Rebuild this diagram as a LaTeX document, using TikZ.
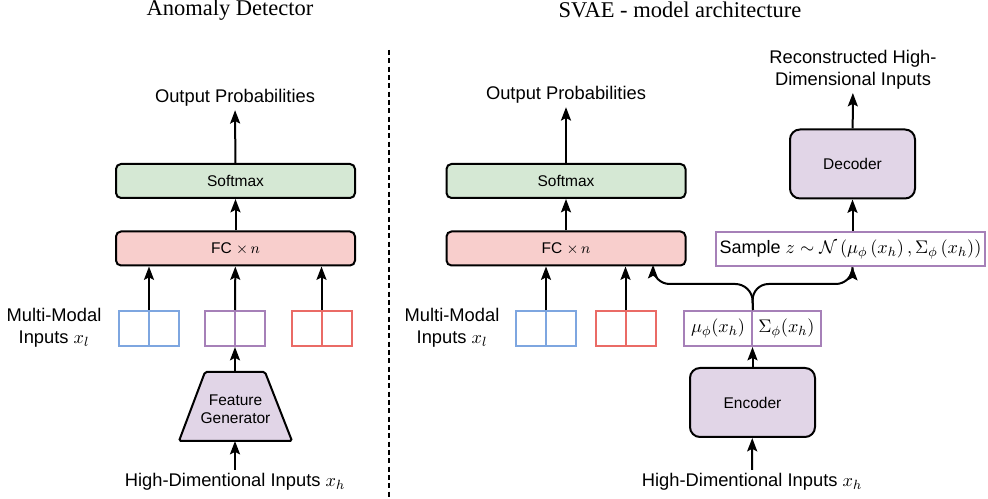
\documentclass[tikz,border=0pt]{standalone}
\usepackage{amsmath,amssymb}
\usepackage{fontspec}
\setsansfont{Liberation Sans}
\newfontfamily\titlefont{Liberation Serif}
\usetikzlibrary{arrows.meta,positioning}
\definecolor{softgreen}{HTML}{D5E8D4}
\definecolor{fcred}{HTML}{F8CECC}
\definecolor{vaepurple}{HTML}{E1D5E7}
\definecolor{inblue}{HTML}{7EA6E0}
\definecolor{inpurple}{HTML}{A680B8}
\definecolor{inred}{HTML}{EA6B66}

\begin{document}
\begin{tikzpicture}[x=0.6pt,y=-0.6pt]
\useasboundingbox (0,0) rectangle (988,499);
\tikzstyle{every node}=[inner sep=2pt, font=\sffamily];
\tikzstyle{layer}=[draw, line width=1.2pt, rounded corners=3pt, minimum width=143.4pt, minimum height=20.4pt, font=\sffamily\fontsize{9.3}{11}\selectfont]
\tikzstyle{coder}=[draw, fill=vaepurple, line width=1.2pt, rounded corners=6pt, minimum width=75pt, minimum height=41.4pt, font=\sffamily\fontsize{9.3}{11}\selectfont]
\tikzstyle{vec}=[draw, line width=1.2pt, minimum width=36pt, minimum height=21pt, font=\sffamily\fontsize{11}{13}\selectfont]
\tikzstyle{txt}=[font=\sffamily\fontsize{11}{13}\selectfont, align=center]
\tikzstyle{heading}=[font=\titlefont\fontsize{13.5}{16}\selectfont]
\tikzstyle{arr}=[line width=1.2pt, -{Stealth[length=8pt,width=6pt,inset=1.5pt]}]

% anomaly detector
\begin{scope}
\draw (230,10) node[heading] (headL) {Anomaly Detector};
\draw (235,98) node[txt] (outL) {Output Probabilities};
\draw (235.5,181) node[layer, fill=softgreen] (softL) {Softmax};
\draw (235.5,248.5) node[layer, fill=fcred] (fcL) {FC $\times\, n$};
\draw (149,328.5) node[vec, draw=inblue] (blueL) {};
\draw (235,328.5) node[vec, draw=inpurple] (purpL) {};
\draw (321.5,328.5) node[vec, draw=inred] (redL) {};
\draw (54,328) node[txt] (mmL) {Multi-Modal\\Inputs $x_l$};
\filldraw[fill=vaepurple, line width=1.2pt, rounded corners=1pt] (179,441) -- (292,441) -- (265,372) -- (205,372) -- cycle;
\coordinate (featT) at (235,372);
\coordinate (featB) at (235,441);
\draw (235.5,409) node[align=center, font=\sffamily\fontsize{9.3}{11}\selectfont] (featL) {Feature\\Generator};
\draw (235,482) node[txt] (hiL) {High-Dimentional Inputs $x_h$};
\draw[inblue, line width=1.2pt] (blueL.north) -- (blueL.south);
\draw[inpurple, line width=1.2pt] (purpL.north) -- (purpL.south);
\draw[inred, line width=1.2pt] (redL.north) -- (redL.south);
\draw[arr] (softL) -- (outL);
\draw[arr] (fcL) -- (softL);
\draw[arr] (blueL.north) -- (blueL.north |- fcL.south);
\draw[arr] (purpL.north) -- (fcL);
\draw[arr] (redL.north) -- (redL.north |- fcL.south);
\draw[arr] (featT) -- (purpL);
\draw[arr] (hiL) -- (featB);
\end{scope}

\draw[line width=1.2pt, dash pattern=on 3pt off 2pt] (389,50) -- (389,499);

% svae
\begin{scope}
\draw (680,10) node[heading] (headR) {SVAE - model architecture};
\draw (566,95) node[txt] (outR) {Output Probabilities};
\draw (566,181) node[layer, fill=softgreen] (softR) {Softmax};
\draw (566,248.5) node[layer, fill=fcred] (fcR) {FC $\times\, n$};
\draw (546,329) node[vec, draw=inblue] (blueR) {};
\draw (625.5,329) node[vec, draw=inred] (redR) {};
\draw (452,328) node[txt] (mmR) {Multi-Modal\\Inputs $x_l$};
\draw (718,328.5) node[vec, draw=inpurple, minimum width=40.8pt, inner sep=0pt] (muR) {$\mu_\phi(x_h)$};
\draw (786.5,328.5) node[vec, draw=inpurple, minimum width=41.4pt, inner sep=0pt] (sigR) {$\Sigma_\phi(x_h)$};
\draw (752.5,402.5) node[coder] (encR) {Encoder};
\draw (752,482) node[txt] (hiR) {High-Dimentional Inputs $x_h$};
\draw (850.5,249) node[vec, draw=inpurple, minimum width=161.4pt, minimum height=20.4pt, inner sep=1pt, font=\sffamily\fontsize{10.8}{12}\selectfont] (sampR) {Sample $z\sim\mathcal{N}\left(\mu_\phi\left(x_h\right),\Sigma_\phi\left(x_h\right)\right)$};
\draw (852.5,164) node[coder] (decR) {Decoder};
\draw (853,70) node[txt] (recR) {Reconstructed High-\\Dimensional Inputs};
\draw[inblue, line width=1.2pt] (blueR.north) -- (blueR.south);
\draw[inred, line width=1.2pt] (redR.north) -- (redR.south);
\coordinate (split) at (752,284);
\draw[arr] (softR) -- (outR);
\draw[arr] (fcR) -- (softR);
\draw[arr] (blueR.north) -- (blueR.north |- fcR.south);
\draw[arr] (redR.north) -- (redR.north |- fcR.south);
\draw[arr, rounded corners=10pt] (muR.north east) -- (split) -| (653,265);
\draw[arr, rounded corners=10pt] (muR.north east) -- (split) -| (sampR.south -| decR.south);
\draw[arr] (encR) -- (encR |- muR.south);
\draw[arr] (hiR) -- (encR);
\draw[arr] (sampR.north -| decR.south) -- (decR);
\draw[arr] (decR) -- (recR);
\end{scope}
\end{tikzpicture}
\end{document}
